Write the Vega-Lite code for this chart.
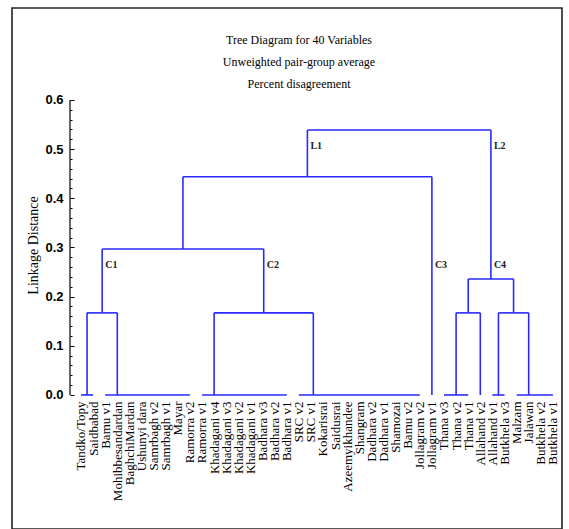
{
  "$schema": "https://vega.github.io/schema/vega-lite/v6.json",
  "width": 550,
  "height": 521,
  "autosize": "none",
  "padding": {"left": 12, "top": 8, "right": 7, "bottom": 0},
  "background": "white",
  "config": {
    "view": {"stroke": "#222", "strokeWidth": 1.6},
    "axis": {"grid": false}
  },
  "title": {
    "text": ["Tree Diagram for 40  Variables", "Unweighted pair-group average", "Percent disagreement"],
    "font": "Liberation Serif",
    "fontSize": 12,
    "fontWeight": "normal",
    "color": "black",
    "lineHeight": 22,
    "baseline": "bottom",
    "anchor": "middle",
    "frame": "group",
    "offset": -95,
    "dx": 12
  },
  "resolve": {"axis": {"x": "independent", "y": "independent"}},
  "layer": [
    {
      "data": {"values": [
        {"x": 1, "x2": 2, "y": 0, "y2": 0},
        {"x": 3, "x2": 10, "y": 0, "y2": 0},
        {"x": 11, "x2": 18, "y": 0, "y2": 0},
        {"x": 19, "x2": 29, "y": 0, "y2": 0},
        {"x": 31, "x2": 33, "y": 0, "y2": 0},
        {"x": 35, "x2": 36, "y": 0, "y2": 0},
        {"x": 37, "x2": 40, "y": 0, "y2": 0},
        {"x": 1.5, "x2": 1.5, "y": 0, "y2": 0.167},
        {"x": 4, "x2": 4, "y": 0, "y2": 0.167},
        {"x": 12, "x2": 12, "y": 0, "y2": 0.167},
        {"x": 20.2, "x2": 20.2, "y": 0, "y2": 0.167},
        {"x": 32, "x2": 32, "y": 0, "y2": 0.167},
        {"x": 34, "x2": 34, "y": 0, "y2": 0.167},
        {"x": 35.5, "x2": 35.5, "y": 0, "y2": 0.167},
        {"x": 38, "x2": 38, "y": 0, "y2": 0.167},
        {"x": 1.5, "x2": 4, "y": 0.167, "y2": 0.167},
        {"x": 12, "x2": 20.2, "y": 0.167, "y2": 0.167},
        {"x": 32, "x2": 34, "y": 0.167, "y2": 0.167},
        {"x": 35.5, "x2": 38, "y": 0.167, "y2": 0.167},
        {"x": 2.75, "x2": 2.75, "y": 0.167, "y2": 0.297},
        {"x": 16.1, "x2": 16.1, "y": 0.167, "y2": 0.297},
        {"x": 33, "x2": 33, "y": 0.167, "y2": 0.236},
        {"x": 36.75, "x2": 36.75, "y": 0.167, "y2": 0.236},
        {"x": 2.75, "x2": 16.1, "y": 0.297, "y2": 0.297},
        {"x": 33, "x2": 36.75, "y": 0.236, "y2": 0.236},
        {"x": 9.425, "x2": 9.425, "y": 0.297, "y2": 0.444},
        {"x": 30, "x2": 30, "y": 0, "y2": 0.444},
        {"x": 9.425, "x2": 30, "y": 0.444, "y2": 0.444},
        {"x": 19.71, "x2": 19.71, "y": 0.444, "y2": 0.539},
        {"x": 34.875, "x2": 34.875, "y": 0.236, "y2": 0.539},
        {"x": 19.71, "x2": 34.875, "y": 0.539, "y2": 0.539}
      ]},
      "mark": {"type": "rule", "color": "#2a2aff", "strokeWidth": 1.6},
      "encoding": {
        "x": {
          "field": "x", "type": "quantitative",
          "scale": {"domain": [-4.702, 40.752], "nice": false, "zero": false},
          "axis": {
            "orient": "bottom",
            "offset": -133,
            "values": [1,2,3,4,5,6,7,8,9,10,11,12,13,14,15,16,17,18,19,20,21,22,23,24,25,26,27,28,29,30,31,32,33,34,35,36,37,38,39,40],
            "labelExpr": "['Tandko/Topy','Saidbabad','Bamu v1','Mohibbesandardan','BaghchiMardan','Ushunyi dara','Samrbagh v2','Samrbagh v1','Mayar','Ramorra v2','Ramorra v1','Khadagani v4','Khadagani v3','Khadagani v2','Khadagani v1','Badhara v3','Badhara v2','Badhara v1','SRC v2','SRC v1','Kokarisrai','Saidusrai','Azeemyikhandee','Shangram','Dadhara v2','Dadhara v1','Shamozai','Bamu v2','Jollagram v2','Jollagram v1','Thana v3','Thana v2','Thana v1','Allahand v2','Allahand v1','Butkhela v3','Malzam','Jalawan','Butkhela v2','Butkhela v1'][datum.value - 1]",
            "labelAngle": -90,
            "labelAlign": "right",
            "labelBaseline": "middle",
            "labelPadding": 5,
            "labelFont": "Liberation Serif",
            "labelFontSize": 13,
            "labelColor": "black",
            "labelOverlap": false,
            "labelBound": false,
            "labelFlush": false,
            "domain": false,
            "ticks": false,
            "title": null
          }
        },
        "x2": {"field": "x2"},
        "y": {
          "field": "y", "type": "quantitative",
          "scale": {"domain": [-0.2726, 0.7871], "nice": false, "zero": false},
          "axis": {
            "orient": "left",
            "offset": -58,
            "values": [0, 0.1, 0.2, 0.3, 0.4, 0.5, 0.6],
            "format": ".1f",
            "labelFont": "Liberation Sans",
            "labelFontWeight": "bold",
            "labelFontSize": 13,
            "labelColor": "black",
            "labelPadding": 11,
            "labelOverlap": false,
            "labelBound": false,
            "labelFlush": false,
            "tickSize": -4,
            "tickColor": "black",
            "tickWidth": 1,
            "domain": false,
            "title": "Linkage Distance",
            "titleFont": "Liberation Serif",
            "titleFontSize": 14,
            "titleFontWeight": "normal",
            "titleColor": "black",
            "titleX": -37,
            "titleY": 237,
            "titleAlign": "center",
            "titleBaseline": "middle",
            "titleAngle": -90
          }
        },
        "y2": {"field": "y2"}
      }
    },
    {
      "data": {"values": [{"x": 0.091, "y": 0, "y2": 0.6}]},
      "mark": {"type": "rule", "color": "black", "strokeWidth": 1.2},
      "encoding": {
        "x": {"field": "x", "type": "quantitative", "axis": null},
        "y": {
          "field": "y", "type": "quantitative",
          "axis": {
            "orient": "left",
            "offset": -58,
            "values": [0.02,0.04,0.06,0.08,0.12,0.14,0.16,0.18,0.22,0.24,0.26,0.28,0.32,0.34,0.36,0.38,0.42,0.44,0.46,0.48,0.52,0.54,0.56,0.58],
            "labels": false,
            "domain": false,
            "tickSize": -2,
            "tickColor": "black",
            "tickWidth": 1,
            "title": null
          }
        },
        "y2": {"field": "y2"}
      }
    },
    {
      "data": {"values": [
        {"x": 2.75, "y": 0.264, "t": "C1"},
        {"x": 16.1, "y": 0.264, "t": "C2"},
        {"x": 30, "y": 0.264, "t": "C3"},
        {"x": 34.875, "y": 0.264, "t": "C4"},
        {"x": 19.71, "y": 0.506, "t": "L1"},
        {"x": 34.875, "y": 0.506, "t": "L2"}
      ]},
      "mark": {"type": "text", "align": "left", "baseline": "middle", "dx": 3, "font": "Liberation Serif", "fontSize": 10, "fontWeight": "bold", "color": "#222"},
      "encoding": {
        "x": {"field": "x", "type": "quantitative", "axis": null},
        "y": {"field": "y", "type": "quantitative", "axis": null},
        "text": {"field": "t"}
      }
    }
  ]
}
